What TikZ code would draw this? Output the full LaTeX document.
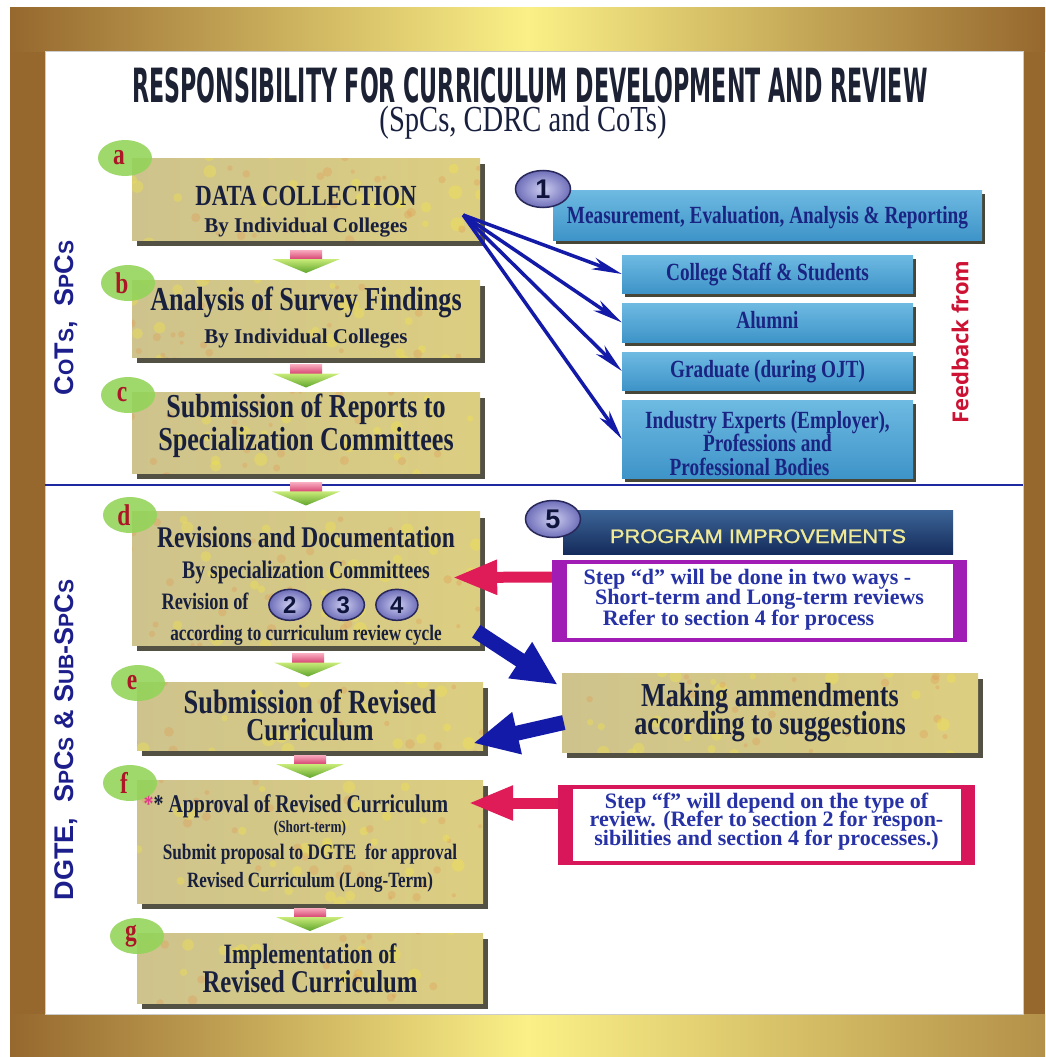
\documentclass[tikz,border=0pt]{standalone}
\usepackage{fontspec}
\usepackage{graphicx}
\usetikzlibrary{positioning}
\usetikzlibrary{calc}
\usetikzlibrary{arrows.meta}
\usetikzlibrary{shapes.geometric}
\usetikzlibrary{shadows}
\setmainfont{Liberation Serif}
\newfontfamily\condserif[FakeStretch=0.78]{Liberation Serif}
\newfontfamily\titlesans{DejaVu Sans Condensed}
\newfontfamily\sidesans{Liberation Sans}
\newfontfamily\feedsans{Open Sans}
\newfontfamily\progsans[FakeStretch=1.12,FakeBold=1.2]{Liberation Sans}
\definecolor{goldbrown}{RGB}{150,104,46}
\definecolor{goldyellow}{RGB}{250,240,135}
\definecolor{titlenavy}{RGB}{28,34,52}
\definecolor{navytext}{RGB}{24,32,62}
\definecolor{tanbox}{RGB}{206,195,140}
\definecolor{tanlight}{RGB}{220,206,128}
\definecolor{speckorange}{RGB}{226,150,80}
\definecolor{speckyellow}{RGB}{245,230,70}
\definecolor{shadowdark}{RGB}{40,38,20}
\definecolor{badgegreen}{RGB}{146,212,88}
\definecolor{lettered}{RGB}{172,22,38}
\definecolor{starpink}{RGB}{225,60,140}
\definecolor{numedge}{RGB}{40,40,90}
\definecolor{badgeblue}{RGB}{110,110,185}
\definecolor{badgelight}{RGB}{205,205,240}
\definecolor{numtext}{RGB}{14,20,60}
\definecolor{skytop}{RGB}{110,186,226}
\definecolor{skybottom}{RGB}{62,148,200}
\definecolor{bluetext}{RGB}{26,36,130}
\definecolor{progtop}{RGB}{60,100,150}
\definecolor{progbottom}{RGB}{20,44,92}
\definecolor{progtext}{RGB}{240,234,150}
\definecolor{notepurple}{RGB}{160,28,180}
\definecolor{notered}{RGB}{216,22,90}
\definecolor{notetext}{RGB}{38,50,165}
\definecolor{feedred}{RGB}{205,18,52}
\definecolor{sidenavy}{RGB}{28,30,140}
\definecolor{dividerblue}{RGB}{30,40,160}
\definecolor{arrowblue}{RGB}{20,26,168}
\definecolor{arrowred}{RGB}{224,28,88}
\definecolor{stemlight}{RGB}{248,170,190}
\definecolor{stemdark}{RGB}{215,70,115}
\definecolor{headlight}{RGB}{200,235,120}
\definecolor{headdark}{RGB}{95,165,45}
\newcommand{\fsz}[2]{\fontsize{#1}{#2}\selectfont\lineskiplimit=-100pt\relax}
\newcommand{\upstrut}[1]{\rule{0pt}{#1pt}}
\newcommand{\downstrut}[1]{\rule[-#1pt]{0pt}{#1pt}}
\newcommand{\smallcap}[1]{{\fontsize{21}{21}\selectfont #1}}

\begin{document}
\begin{tikzpicture}
    [x=1pt, y=-1pt,
    stagebox/.style={left color=tanbox, right color=tanlight, minimum width=348pt, inner sep=0pt, align=center, text=navytext, font=\condserif\bfseries\fsz{30}{#1}, drop shadow={shadow xshift=5pt, shadow yshift=-6pt, opacity=0.8, fill=shadowdark},
        path picture={\foreach \k in {1,...,36}{\fill[speckorange, opacity=0.3] ($(path picture bounding box.center)+(rand*190,rand*70)$) circle (2+3*rnd);
            \fill[speckyellow, opacity=0.35] ($(path picture bounding box.center)+(rand*190,rand*70)$) circle (3+4*rnd);}}},
    letterbadge/.style={ellipse, fill=badgegreen, fill opacity=0.88, text opacity=1, minimum width=54pt, minimum height=36pt, inner sep=0pt, text=lettered, font=\condserif\bfseries\fsz{30}{30}},
    numbadge/.style={ellipse, draw=numedge, line width=1.5pt, inner color=badgelight, outer color=badgeblue, minimum width=55pt, minimum height=37pt, inner sep=0pt, text=numtext, font=\sidesans\bfseries\fsz{27}{27}},
    fbbox/.style={top color=skytop, bottom color=skybottom, minimum width=291pt, inner sep=0pt, align=center, text=bluetext, font=\condserif\bfseries\fsz{24.7}{23.5}, drop shadow={shadow xshift=3pt, shadow yshift=-4pt, opacity=0.85, fill=shadowdark}},
    oneline/.style={text height=17pt, text depth=5pt},
    notebox/.style={fill=#1, inner sep=0pt, align=center, text=notetext, font=\bfseries\fsz{22}{20.5}, path picture={\fill[white] ([shift={(15pt,-4pt)}]path picture bounding box.north west) rectangle ([shift={(-14pt,4pt)}]path picture bounding box.south east);}},
    progbox/.style={top color=progtop, bottom color=progbottom, minimum width=390pt, minimum height=44pt, text height=22pt, text depth=0pt, inner sep=0pt, text=progtext, font=\progsans\fsz{19.5}{19.5}},
    stepstem/.style={top color=stemlight, bottom color=stemdark},
    stephead/.style={top color=headlight, bottom color=headdark},
    fbarrow/.style={draw=arrowblue, line width=3.5pt, -{Stealth[length=30pt, width=12pt, inset=9pt]}},
    bigarrow/.style={draw=arrowblue, line width=15pt, -{Triangle[length=45pt, width=40pt]}},
    redarrow/.style={draw=arrowred, line width=11pt, -{Triangle[length=45pt, width=32pt]}},
    sidelbl/.style={rotate=90, text=sidenavy, font=\sidesans\bfseries\fsz{27}{27}}]
    \useasboundingbox (0,0) rectangle (1045,1057);
    %\draw[step=50,gray,very thin] (0,0) grid (1045,1057);
    \pgfmathsetseed{11}
    \fill[white] (0,0) rectangle (1045,1057);
    \shade[left color=goldbrown, right color=goldbrown, middle color=goldyellow] (10,8) rectangle (1045,52);
    \fill[goldbrown] (10,52) rectangle (45,1014);
    \fill[goldbrown] (1023,52) rectangle (1045,1014);
    \shade[left color=goldbrown, right color=goldbrown!70!goldyellow, middle color=goldyellow] (10,1014) rectangle (1045,1057);
    \fill[white] (45,52) rectangle (1023,1014);
    \draw[gray!40, line width=1pt] (45,52) rectangle (1023,1014);

    \node[inner sep=0pt] (title) at (530,85.5) {\resizebox{795pt}{35pt}{\titlesans\bfseries\color{titlenavy}RESPONSIBILITY FOR CURRICULUM DEVELOPMENT AND REVIEW}};
    \node[inner sep=0pt, text=navytext] (subtitle) at (523,123) {\resizebox{287pt}{!}{\condserif\fsz{34}{34}(SpCs, CDRC and CoTs)}};

    \draw[dividerblue, line width=2pt] (45,485) -- (1023,485);

    \node[stagebox=27, minimum height=82pt] (collect) at (306,199)
        {\upstrut{45}{\fsz{29.2}{29}DATA COLLECTION}\\
         {\rmfamily\fsz{21}{21}By Individual Colleges}\downstrut{6}};
    \node[stagebox=33, minimum height=77pt] (analysis) at (306,318.5)
        {\upstrut{24}{\fsz{33.5}{33}Analysis of Survey Findings}\\
         {\rmfamily\fsz{21}{21}By Individual Colleges}\downstrut{8}};
    \node[stagebox=33, minimum height=81pt] (submitrep) at (306,432.5)
        {\upstrut{24}{\fsz{33.5}{33}Submission of Reports to}\\
         {\fsz{33.5}{33}Specialization Committees}\downstrut{22}};
    \node[stagebox=30.7, minimum height=133pt] (revdoc) at (306,578.5)
        {\upstrut{36}{\fsz{30}{30}Revisions and Documentation}\\
         {\fsz{25.3}{25}By specialization Committees}\\
         \mbox{}\\
         {\fsz{22}{22}according to curriculum review cycle}\downstrut{5}};
    \node[stagebox=27, minimum width=346pt, minimum height=68pt] (subrev) at (310,716)
        {\upstrut{26}{\fsz{33.9}{34}Submission of Revised}\\
         {\fsz{31.9}{32}Curriculum}\downstrut{5}};
    \node[stagebox=27.5, minimum width=346pt, minimum height=123pt] (approval) at (310,841.5)
        {\upstrut{22}{\fsz{25.5}{25}{\color{starpink}*}* Approval of Revised Curriculum}\hspace*{28pt}\\[-7.5pt]
         {\fsz{17}{17}(Short-term)}\\
         {\fsz{22.1}{22}Submit proposal to DGTE\ \ for approval}\\
         {\fsz{21.8}{22}Revised Curriculum (Long-Term)}\downstrut{6}};
    \node[stagebox=29, minimum width=346pt, minimum height=70pt] (implement) at (310,968)
        {\upstrut{24}{\fsz{28}{28}Implementation of}\\
         {\fsz{31.7}{32}Revised Curriculum}\downstrut{5}};

    \node[anchor=base west, text=navytext, font=\condserif\bfseries\fsz{23.5}{23.5}] (revof) at (158,609) {Revision of};
    \node[numbadge, minimum width=42pt, minimum height=31pt, font=\sidesans\bfseries\fsz{24}{24}, right=16pt of revof, yshift=-4pt] (two) {2};
    \node[numbadge, minimum width=42pt, minimum height=31pt, font=\sidesans\bfseries\fsz{24}{24}, right=10pt of two] (three) {3};
    \node[numbadge, minimum width=42pt, minimum height=31pt, font=\sidesans\bfseries\fsz{24}{24}, right=10pt of three] (four) {4};

    \foreach \u/\v in {collect/analysis, analysis/submitrep, submitrep/revdoc, revdoc/subrev, subrev/approval, approval/implement}
    {
        \path (\u.south) -- (\v.north) coordinate[pos=0.5] (mid);
        \shade[stepstem] ($(mid)+(-16,-10)$) rectangle ($(mid)+(16,-1)$);
        \shade[stephead] ($(mid)+(-34,-1)$) -- ($(mid)+(34,-1)$) -- ($(mid)+(0,13)$) -- cycle;
    }

    \node[letterbadge] (la) at (125,158) {a\hspace*{12pt}};
    \node[letterbadge] (lb) at (128,283) {b\hspace*{12pt}};
    \node[letterbadge] (lc) at (128,395) {c\hspace*{12pt}};
    \node[letterbadge] (ld) at (130,515) {d\hspace*{12pt}};
    \node[letterbadge] (le) at (138,683) {e\hspace*{12pt}};
    \node[letterbadge] (lf) at (130,783) {f\hspace*{12pt}};
    \node[letterbadge] (lg) at (137,936) {g\hspace*{12pt}};

    \node[fbbox, oneline, minimum width=429pt, minimum height=50pt, text height=20pt, text depth=4pt] (measure) at (767.5,215) {Measurement, Evaluation, Analysis \& Reporting};
    \node[fbbox, oneline, minimum height=38pt] (staff) at (767.5,274) {College Staff \& Students};
    \node[fbbox, oneline, minimum height=39pt] (alumni) at (767.5,322.5) {Alumni};
    \node[fbbox, oneline, minimum height=38pt] (grad) at (767.5,371) {Graduate (during OJT)};
    \node[fbbox, minimum height=78pt] (industry) at (767.5,439)
        {\upstrut{28}Industry Experts (Employer),\\
         Professions and\hspace*{36pt}\\
         Professional Bodies\hspace*{36pt}\downstrut{3}};
    \node[numbadge] (one) at (543,189) {1};

    \node[rotate=90, text=feedred, font=\feedsans\bfseries\fsz{22}{22}] (feedlbl) at (960,342) {Feedback from};
    \node[sidelbl] (cotslbl) at (66,318) {C\smallcap{O}T\smallcap{S},\ \ S\smallcap{P}C\smallcap{S}};
    \node[sidelbl] (dgtelbl) at (66,740) {DGTE,\ \ S\smallcap{P}C\smallcap{S} \& S\smallcap{UB}-S\smallcap{P}C\smallcap{S}};

    \coordinate (fbstart) at ($(collect.east)+(-17,16)$);
    \foreach \target in {staff, alumni, grad, industry}
        \draw[fbarrow] (fbstart) -- (\target.west);

    \node[progbox] (progimp) at (758,532) {PROGRAM IMPROVEMENTS};
    \node[numbadge] (five) at (553,519) {5};

    \node[notebox=notepurple, minimum width=415pt, minimum height=82pt] (notd) at (759.5,601)
        {\upstrut{20}Step “d” will be done in two ways -\hspace*{24pt}\\
         Short-term and Long-term reviews\hspace*{24pt}\\
         Refer to section 4 for process\hspace*{42pt}\downstrut{13}};
    \draw[redarrow] ($(notd.west)+(0,-24)$) -- ($(revdoc.east)+(-28,-1)$);

    \node[stagebox=28, minimum width=416pt, minimum height=79pt] (amend) at (770,712.5)
        {\upstrut{23}{\fsz{33.5}{33}Making ammendments}\\
         {\fsz{33.5}{33}according to suggestions}\downstrut{6}};
    \draw[bigarrow] ($(revdoc.south east)+(-4,-14)$) -- ($(amend.north west)+(-4,12)$);
    \draw[bigarrow] ($(amend.west)+(2,10)$) -- ($(subrev.south east)+(-10,-7)$);

    \node[notebox=notered, minimum width=417pt, minimum height=80pt, font=\bfseries\fsz{22}{18.5}] (notf) at (766.5,825)
        {\upstrut{20}Step “f” will depend on the type of\\
         review. (Refer to section 2 for respon-\\
         sibilities and section 4 for processes.)\downstrut{17}};
    \draw[redarrow] ($(notf.west)+(0,-22)$) -- ($(approval.east)+(-15,-38.5)$);
\end{tikzpicture}
\end{document}
